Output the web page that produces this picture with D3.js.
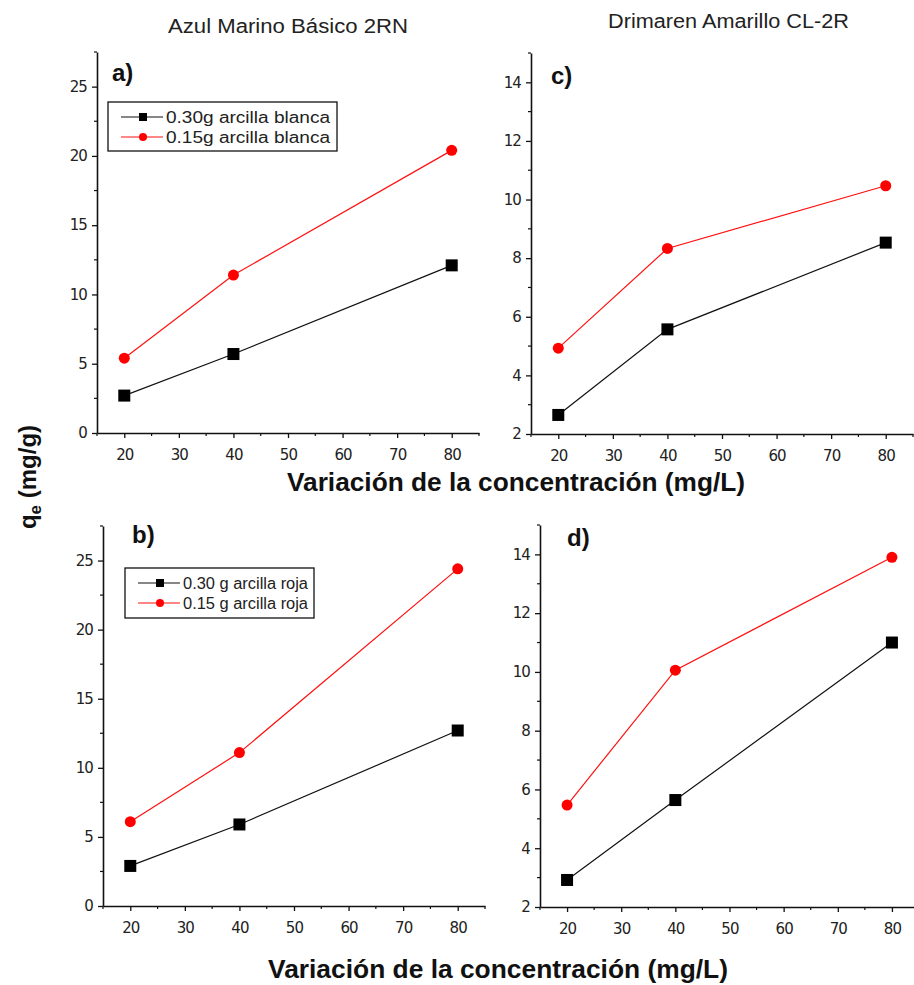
<!DOCTYPE html>
<html>
<head>
<meta charset="utf-8">
<script src="https://d3js.org/d3.v7.min.js"></script>
<style>
  html, body { margin: 0; padding: 0; background: #fff; }
  svg { display: block; font-family: Arial, "Liberation Sans", sans-serif; }
</style>
</head>
<body>
<svg id="chart" width="914" height="985"></svg>
<script>
// Initial dye concentration (mg/L)
const concentrations = [20, 40, 80];

// Adsorption capacity qe (mg/g) per panel and clay dose
const qeAzul030Blanca = [2.7, 5.7, 12.1];
const qeAzul015Blanca = [5.4, 11.4, 20.4];
const qeAzul030Roja   = [2.9, 5.9, 12.7];
const qeAzul015Roja   = [6.1, 11.1, 24.4];
const qeAmar030Blanca = [2.65, 5.57, 8.53];
const qeAmar015Blanca = [4.93, 8.33, 10.47];
const qeAmar030Roja   = [2.92, 5.64, 11.0];
const qeAmar015Roja   = [5.47, 10.06, 13.9];

const xTicks = [20, 30, 40, 50, 60, 70, 80];
const yTicksAzul = [0, 5, 10, 15, 20, 25];
const yTicksAmar = [2, 4, 6, 8, 10, 12, 14];

const legendBlanca = ["0.30g arcilla blanca", "0.15g arcilla blanca"];
const legendRoja = ["0.30 g arcilla roja", "0.15 g arcilla roja"];

const svg = d3.select("#chart");

const panels = [
  { tag: "a)", x0: 97, x1: 479, yTop: 52, yBot: 433, yDom: [0, 27.5], yTicks: yTicksAzul, minor: 2.5,
    black: qeAzul030Blanca, red: qeAzul015Blanca, legend: legendBlanca,
    legBox: [108, 102, 229, 49], legText: 164, tagPos: [112, 81] },
  { tag: "c)", x0: 531, x1: 913, yTop: 53, yBot: 434, yDom: [2, 15], yTicks: yTicksAmar, minor: 1,
    black: qeAmar030Blanca, red: qeAmar015Blanca, legend: null, tagPos: [551, 84] },
  { tag: "b)", x0: 103, x1: 485, yTop: 526, yBot: 906, yDom: [0, 27.5], yTicks: yTicksAzul, minor: 2.5,
    black: qeAzul030Roja, red: qeAzul015Roja, legend: legendRoja,
    legBox: [125, 568, 189, 50], legText: 125, tagPos: [132, 543] },
  { tag: "d)", x0: 540, x1: 919, yTop: 525, yBot: 907, yDom: [2, 15], yTicks: yTicksAmar, minor: 1,
    black: qeAmar030Roja, red: qeAmar015Roja, legend: null, tagPos: [567, 546] }
];

panels.forEach(p => {
  const x = d3.scaleLinear().domain([15, 85]).range([p.x0, p.x1]);
  const y = d3.scaleLinear().domain(p.yDom).range([p.yBot, p.yTop]);
  const g = svg.append("g");

  // Minor ticks
  const xMinor = d3.range(15, 86, 5).filter(v => v % 10 !== 0);
  g.selectAll(".xm").data(xMinor).join("line")
    .attr("x1", d => x(d)).attr("x2", d => x(d))
    .attr("y1", p.yBot).attr("y2", p.yBot + 3)
    .attr("stroke", "#111").attr("stroke-width", 1.2);
  const yMinor = d3.range(p.yDom[0], p.yDom[1] + 0.001, p.minor)
    .filter(v => !p.yTicks.some(t => Math.abs(t - v) < 1e-6));
  g.selectAll(".ym").data(yMinor).join("line")
    .attr("x1", p.x0).attr("x2", p.x0 - 3)
    .attr("y1", d => y(d)).attr("y2", d => y(d))
    .attr("stroke", "#111").attr("stroke-width", 1.2);

  // Axes
  const xAxis = d3.axisBottom(x).tickValues(xTicks).tickSize(5).tickPadding(11).tickSizeOuter(0);
  const yAxis = d3.axisLeft(y).tickValues(p.yTicks).tickSize(5).tickPadding(5).tickSizeOuter(0);
  const gx = g.append("g").attr("transform", `translate(0,${p.yBot})`).call(xAxis);
  const gy = g.append("g").attr("transform", `translate(${p.x0},0)`).call(yAxis);
  [gx, gy].forEach(a => {
    a.select(".domain").attr("stroke", "#111").attr("stroke-width", 1.6);
    a.selectAll(".tick line").attr("stroke", "#111").attr("stroke-width", 1.3);
    a.selectAll(".tick text").attr("fill", "#222").style("font-size", "15px")
      .style("font-family", "'DejaVu Sans', sans-serif").attr("letter-spacing", -0.9);
  });

  // Series lines
  const line = d3.line().x((d, i) => x(concentrations[i])).y(d => y(d));
  g.append("path").datum(p.black).attr("d", line)
    .attr("fill", "none").attr("stroke", "#111").attr("stroke-width", 1.2);
  g.append("path").datum(p.red).attr("d", line)
    .attr("fill", "none").attr("stroke", "#ff1010").attr("stroke-width", 1.2);

  // Markers
  g.selectAll(".sq").data(p.black).join("rect")
    .attr("x", (d, i) => x(concentrations[i]) - 6)
    .attr("y", d => y(d) - 6)
    .attr("width", 12).attr("height", 12).attr("fill", "#000");
  g.selectAll(".ci").data(p.red).join("circle")
    .attr("cx", (d, i) => x(concentrations[i]))
    .attr("cy", d => y(d)).attr("r", 5.5).attr("fill", "#ff0000");

  // Panel tag
  g.append("text").attr("x", p.tagPos[0]).attr("y", p.tagPos[1])
    .attr("font-size", 24).attr("font-weight", "bold").attr("fill", "#111").text(p.tag);

  // Legend
  if (p.legend) {
    const [lx, ly, lw, lh] = p.legBox;
    g.append("rect").attr("x", lx).attr("y", ly).attr("width", lw).attr("height", lh)
      .attr("fill", "#fff").attr("stroke", "#111").attr("stroke-width", 1.3);
    const rows = [
      { color: "#111", shape: "sq", text: p.legend[0] },
      { color: "#ff1010", shape: "ci", text: p.legend[1] }
    ];
    rows.forEach((r, i) => {
      const ry = ly + 15 + i * 20;
      g.append("line").attr("x1", lx + 13).attr("x2", lx + 55)
        .attr("y1", ry).attr("y2", ry).attr("stroke", r.color).attr("stroke-width", 1.2);
      if (r.shape === "sq") {
        g.append("rect").attr("x", lx + 31).attr("y", ry - 4).attr("width", 8).attr("height", 8).attr("fill", "#000");
      } else {
        g.append("circle").attr("cx", lx + 35).attr("cy", ry).attr("r", 4).attr("fill", "#ff0000");
      }
      g.append("text").attr("x", lx + 58).attr("y", ry + 6)
        .attr("font-size", 16).attr("fill", "#222")
        .attr("textLength", p.legText).attr("lengthAdjust", "spacingAndGlyphs").text(r.text);
    });
  }
});

// Titles
svg.append("text").attr("x", 168).attr("y", 33)
  .attr("font-size", 20).attr("fill", "#222")
  .attr("textLength", 240).attr("lengthAdjust", "spacingAndGlyphs").text("Azul Marino Básico 2RN");
svg.append("text").attr("x", 608).attr("y", 28)
  .attr("font-size", 20).attr("fill", "#222")
  .attr("textLength", 241).attr("lengthAdjust", "spacingAndGlyphs").text("Drimaren Amarillo CL-2R");

// Axis titles
svg.append("text").attr("x", 287).attr("y", 491)
  .attr("font-size", 26).attr("font-weight", "bold").attr("fill", "#111")
  .attr("textLength", 458).attr("lengthAdjust", "spacingAndGlyphs")
  .text("Variación de la concentración (mg/L)");
svg.append("text").attr("x", 268).attr("y", 978)
  .attr("font-size", 26).attr("font-weight", "bold").attr("fill", "#111")
  .attr("textLength", 460).attr("lengthAdjust", "spacingAndGlyphs")
  .text("Variación de la concentración (mg/L)");

const yl = svg.append("text")
  .attr("transform", "translate(36,477) rotate(-90)")
  .attr("text-anchor", "middle")
  .attr("font-size", 24).attr("font-weight", "bold").attr("fill", "#111");
yl.append("tspan").text("q");
yl.append("tspan").attr("font-size", 17).attr("dy", 5).text("e");
yl.append("tspan").attr("dy", -5).text(" (mg/g)");
</script>
</body>
</html>
